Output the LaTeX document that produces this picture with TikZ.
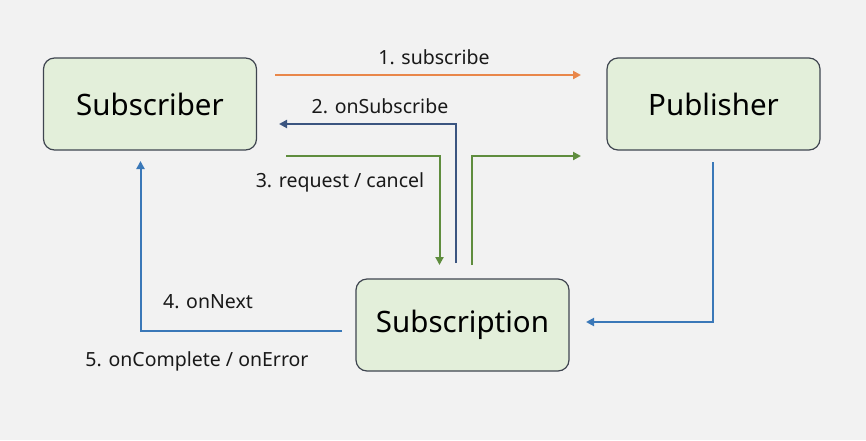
\documentclass[tikz,border=0pt]{standalone}
\usepackage{fontspec}
\setmainfont{Noto Sans}
\usetikzlibrary{arrows.meta}
\definecolor{bg}{HTML}{F2F2F2}
\definecolor{boxfill}{HTML}{E3EFDA}
\definecolor{boxline}{HTML}{3F4550}
\definecolor{corange}{HTML}{E9874A}
\definecolor{cnavy}{HTML}{3B5580}
\definecolor{cgreen}{HTML}{5F8D3E}
\definecolor{cblue}{HTML}{3A78B8}
\tikzset{
  actor/.style={draw=boxline, line width=1.2pt, fill=boxfill, rounded corners=11pt,
    minimum width=213pt, minimum height=92pt, font=\fontsize{29.5}{32}\selectfont, inner sep=0pt},
  flow/.style={line width=2pt, -{Triangle[length=8pt,width=8pt]}},
  lbl/.style={font=\fontsize{19.5}{22}\selectfont, inner sep=0pt, text=black!90}
}
\begin{document}
\begin{tikzpicture}[x=1pt,y=-1pt]
\fill[bg] (0,0) rectangle (866,440);
\useasboundingbox (0,0) rectangle (866,440);

\node[actor] (sub) at (150,104) {Subscriber};
\node[actor] (pub) at (713.5,104) {Publisher};
\node[actor] (subn) at (462.5,325) {Subscription};

% 1. subscribe
\coordinate (s1a) at (275,75);
\coordinate (s1b) at (581,75);
\draw[flow, corange] (s1a) -- (s1b);
\node[lbl] (l1) at (434,57) {1. subscribe};

% 2. onSubscribe
\coordinate (s2a) at (456,263);
\coordinate (s2m) at (456,124);
\coordinate (s2b) at (279,124);
\draw[flow, cnavy] (s2a) -- (s2m) -- (s2b);
\node[lbl] (l2) at (380,106) {2. onSubscribe};

% 3. request / cancel
\coordinate (s3a) at (286,156);
\coordinate (s3m) at (439.5,156);
\coordinate (s3b) at (439.5,265);
\draw[flow, cgreen] (s3a) -- (s3m) -- (s3b);
\coordinate (s3c) at (471.5,265);
\coordinate (s3n) at (471.5,156);
\coordinate (s3d) at (581,156);
\draw[flow, cgreen] (s3c) -- (s3n) -- (s3d);
\node[lbl] (l3) at (340,182) {3. request / cancel};

% 4/5. onNext
\coordinate (s4a) at (342,331);
\coordinate (s4m) at (140.5,331);
\coordinate (s4b) at (140.5,161);
\draw[flow, cblue] (s4a) -- (s4m) -- (s4b);
\node[lbl] (l4) at (208,302) {4. onNext};
\node[lbl] (l5) at (197,361) {5. onComplete / onError};

% publisher -> subscription
\coordinate (s6a) at (713,162);
\coordinate (s6m) at (713,322);
\coordinate (s6b) at (586,322);
\draw[flow, cblue] (s6a) -- (s6m) -- (s6b);
\end{tikzpicture}
\end{document}
